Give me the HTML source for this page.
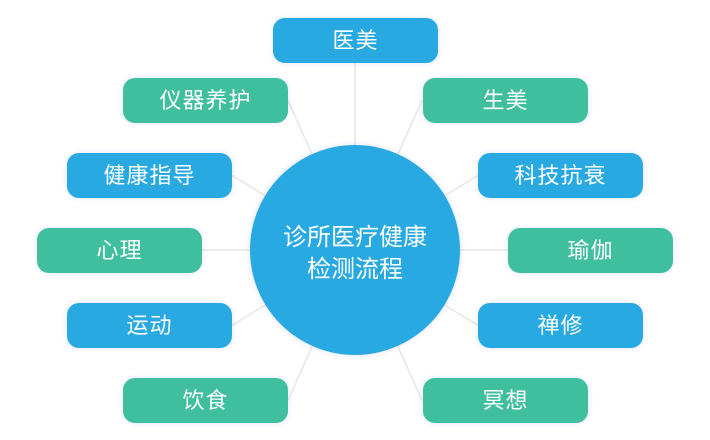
<!DOCTYPE html>
<html><head><meta charset="utf-8"><style>
html,body{margin:0;padding:0;background:#fff;}
body{width:710px;height:440px;position:relative;overflow:hidden;font-family:"Liberation Sans","Noto Sans CJK SC",sans-serif;}
svg{position:absolute;left:0;top:0;}
.b{position:absolute;width:165px;height:45px;border-radius:12px;color:#fff;font-size:22px;line-height:45px;text-align:center;letter-spacing:1px;box-shadow:0 0 6px rgba(110,130,255,0.22);}
.bl{background:#29a9e1;}
.gr{background:#40bf9f;}
.c{position:absolute;left:250px;top:145px;width:210px;height:210px;border-radius:50%;background:#29a9e1;box-shadow:0 0 6px rgba(110,130,255,0.25);color:#fff;font-size:24px;line-height:32px;text-align:center;}
.c span{position:absolute;left:0;width:210px;}
</style></head><body>
<svg width="710" height="440">
<g stroke="#e6e6e6" stroke-width="1.5">
<line x1="355" y1="63" x2="355" y2="250"/>
<line x1="288" y1="100.5" x2="355" y2="250"/>
<line x1="422" y1="100.5" x2="355" y2="250"/>
<line x1="232" y1="175.5" x2="355" y2="250"/>
<line x1="478" y1="175.5" x2="355" y2="250"/>
<line x1="202" y1="250" x2="355" y2="250"/>
<line x1="508" y1="250" x2="355" y2="250"/>
<line x1="232" y1="325.5" x2="355" y2="250"/>
<line x1="478" y1="325.5" x2="355" y2="250"/>
<line x1="288" y1="400.5" x2="355" y2="250"/>
<line x1="422" y1="400.5" x2="355" y2="250"/>
</g>
</svg>
<div class="c"><span style="top:77px">诊所医疗健康</span><span style="top:109px">检测流程</span></div>
<div class="b bl" style="left:273px;top:18px">医美</div>
<div class="b gr" style="left:123px;top:78px">仪器养护</div>
<div class="b gr" style="left:423px;top:78px">生美</div>
<div class="b bl" style="left:67px;top:153px">健康指导</div>
<div class="b bl" style="left:478px;top:153px">科技抗衰</div>
<div class="b gr" style="left:37px;top:228px">心理</div>
<div class="b gr" style="left:508px;top:228px">瑜伽</div>
<div class="b bl" style="left:67px;top:303px">运动</div>
<div class="b bl" style="left:478px;top:303px">禅修</div>
<div class="b gr" style="left:123px;top:378px">饮食</div>
<div class="b gr" style="left:423px;top:378px">冥想</div>
</body></html>
